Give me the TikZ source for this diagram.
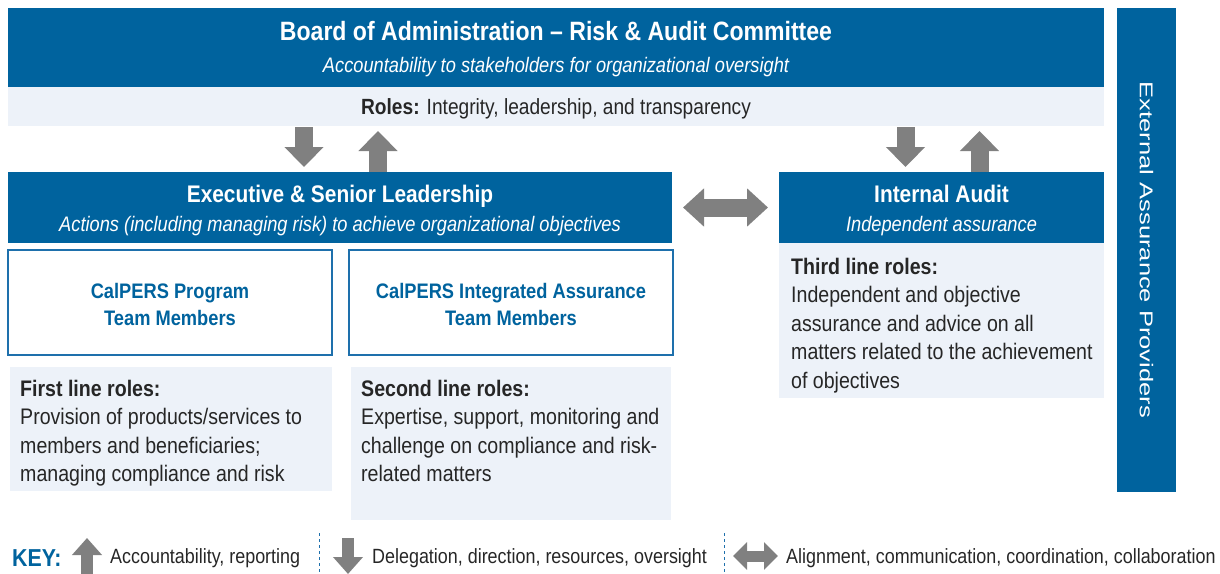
\documentclass[tikz,border=0pt]{standalone}
\usepackage{fontspec}
\setmainfont{Liberation Sans}[FakeStretch=0.87]
\newfontfamily\widesans{Liberation Sans}[FakeStretch=1.38]
\usetikzlibrary{arrows.meta,calc,positioning}
\definecolor{cpBlue}{RGB}{0,99,158}
\definecolor{cpLine}{RGB}{30,112,172}
\definecolor{cpPale}{RGB}{237,242,249}
\definecolor{cpGray}{RGB}{128,128,128}
\definecolor{cpInk}{RGB}{38,38,38}

\begin{document}
\begin{tikzpicture}[x=1pt,y=-1pt,
  box/.style={draw=none,inner sep=0pt,outer sep=0pt,anchor=north west},
  head/.style={box,fill=cpBlue},
  pale/.style={box,fill=cpPale},
  team/.style={box,fill=white,draw=cpLine,line width=1.2pt},
  ttl/.style={anchor=base,inner sep=0pt,text=white,font=\bfseries\fontsize{24}{28}\selectfont},
  sub/.style={anchor=base,inner sep=0pt,text=white,font=\itshape\fontsize{21}{25}\selectfont},
  teamtxt/.style={anchor=base,inner sep=0pt,text=cpBlue,align=center,font=\bfseries\fontsize{21}{27}\selectfont},
  body/.style={anchor=north west,inner sep=0pt,text=cpInk,align=left,font=\fontsize{22.5}{28.5}\selectfont},
  keytxt/.style={anchor=base west,inner sep=0pt,text=cpInk,font=\fontsize{20.6}{25}\selectfont},
  blockarrow/.style={draw=cpGray,line width=18pt,-{Triangle[length=20pt,width=38pt]}},
  keyarrow/.style={draw=cpGray,line width=12pt,-{Triangle[length=17pt,width=29pt]}},
  keysep/.style={draw=cpLine,dashed,line width=0.8pt}]
\useasboundingbox (0,0) rectangle (1220,573);

% board and roles band
\node[head,minimum width=1096,minimum height=79] (board) at (8,8) {};
\node[pale,minimum width=1096,minimum height=39] (roles) at (8,87) {};
\node[ttl,font=\bfseries\fontsize{26.5}{30}\selectfont] (boardT) at ($(board.north)+(0,32.5)$) {Board of Administration -- Risk \& Audit Committee};
\node[sub] (boardS) at ($(board.north)+(0,64)$) {Accountability to stakeholders for organizational oversight};
\node[anchor=base,inner sep=0pt,text=cpInk,font=\fontsize{22}{26}\selectfont] (rolesT)
  at ($(roles.north)+(0,27)$) {\textbf{Roles:} Integrity, leadership, and transparency};

% external providers
\node[head,minimum width=59,minimum height=484] (ext) at (1117,8) {};
\node[rotate=-90,inner sep=0pt,text=white,font=\widesans\fontsize{18.5}{22}\selectfont] (extT)
  at (ext.center) {External Assurance Providers};

% executive side
\node[head,minimum width=664,minimum height=71] (exec) at (8,172) {};
\node[ttl] (execT) at ($(exec.north)+(0,30)$) {Executive \& Senior Leadership};
\node[sub] (execS) at ($(exec.north)+(0,59)$) {Actions (including managing risk) to achieve organizational objectives};

\node[team,minimum width=324,minimum height=105] (prog) at (8,250) {};
\node[teamtxt] (progT) at ($(prog.north)+(0,75)$) {CalPERS Program\\Team Members};
\node[team,minimum width=324,minimum height=105] (integ) at (349,250) {};
\node[teamtxt] (integT) at ($(integ.north)+(0,75)$) {CalPERS Integrated Assurance\\Team Members};

\node[pale,minimum width=322,minimum height=124] (first) at (10,367) {};
\node[body] (firstT) at ($(first.north west)+(10,12.5)$)
  {\textbf{First line roles:}\\Provision of products/services to\\members and beneficiaries;\\managing compliance and risk};
\node[pale,minimum width=320,minimum height=153] (second) at (351,367) {};
\node[body] (secondT) at ($(second.north west)+(10,12.5)$)
  {\textbf{Second line roles:}\\Expertise, support, monitoring and\\challenge on compliance and risk-\\related matters};

% internal audit side
\node[head,minimum width=325,minimum height=71] (audit) at (779,172) {};
\node[ttl] (auditT) at ($(audit.north)+(0,30)$) {Internal Audit};
\node[sub] (auditS) at ($(audit.north)+(0,59)$) {Independent assurance};
\node[pale,minimum width=325,minimum height=155] (third) at (779,243) {};
\node[body] (thirdT) at ($(third.north west)+(12,14.5)$)
  {\textbf{Third line roles:}\\Independent and objective\\assurance and advice on all\\matters related to the achievement\\of objectives};

% connectors
\draw[blockarrow] ($(exec.north |- roles.south)+(-36,1)$) -- ($(exec.north)+(-36,-5)$);
\draw[blockarrow] ($(exec.north)+(38,0)$) -- ($(exec.north |- roles.south)+(38,5)$);
\draw[blockarrow] ($(audit.north |- roles.south)+(-36,1)$) -- ($(audit.north)+(-36,-5)$);
\draw[blockarrow] ($(audit.north)+(38,0)$) -- ($(audit.north |- roles.south)+(38,5)$);
\draw[blockarrow,{Triangle[length=21pt,width=37pt]}-{Triangle[length=21pt,width=37pt]},
  shorten <=11pt,shorten >=11pt] (exec.east) -- (audit.west);

% key
\node[anchor=base west,inner sep=0pt,text=cpBlue,font=\bfseries\fontsize{24.5}{28}\selectfont] (key) at (12,566) {KEY:};
\draw[keyarrow] (87,580) -- (87,538);
\node[keytxt] (keyUp) at (110,563) {Accountability, reporting};
\draw[keysep] (319,533) -- (319,573);
\draw[keyarrow] (348,538) -- (348,574);
\node[keytxt] (keyDown) at (372,563) {Delegation, direction, resources, oversight};
\draw[keysep] (724,533) -- (724,573);
\draw[keyarrow,line width=11pt,{Triangle[length=14pt,width=27pt]}-{Triangle[length=14pt,width=27pt]}] (733,556) -- (778,556);
\node[keytxt] (keyBoth) at (786,563) {Alignment, communication, coordination, collaboration};
\end{tikzpicture}
\end{document}
